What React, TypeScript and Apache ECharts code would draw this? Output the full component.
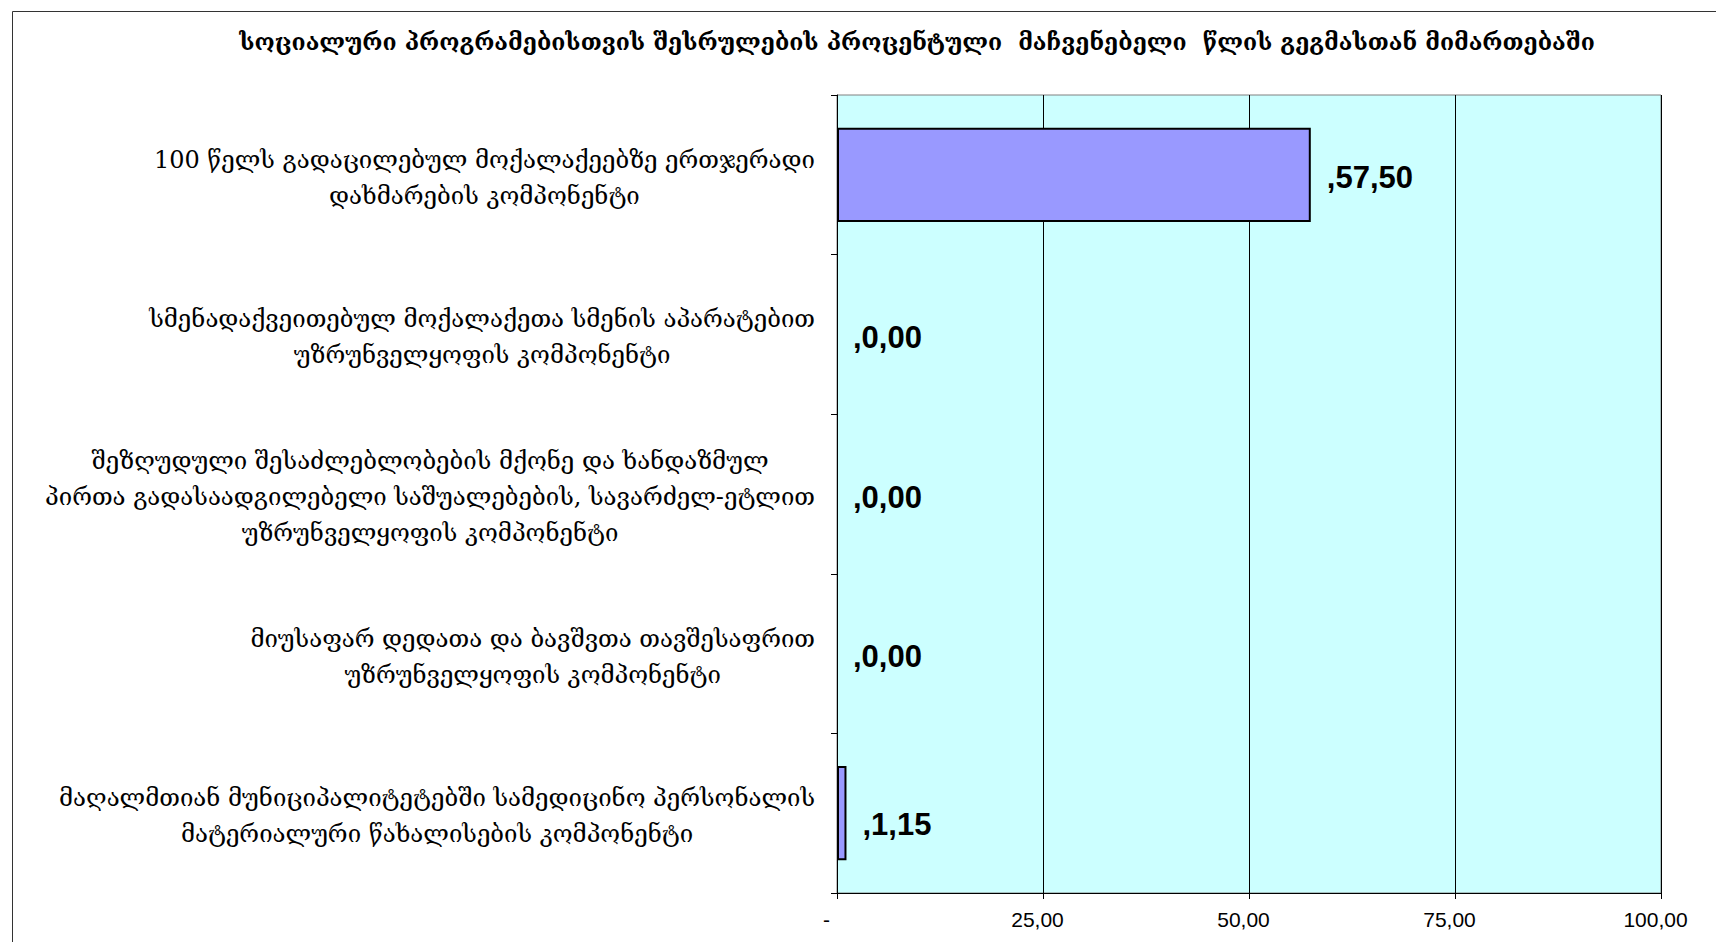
import React, { useEffect, useRef } from "react";
import * as echarts from "echarts";

const TITLE =
  "სოციალური პროგრამებისთვის შესრულების პროცენტული  მაჩვენებელი  წლის გეგმასთან მიმართებაში";

const categories: string[] = [
  "100 წელს გადაცილებულ მოქალაქეებზე ერთჯერადი\nდახმარების კომპონენტი",
  "სმენადაქვეითებულ მოქალაქეთა სმენის აპარატებით\nუზრუნველყოფის კომპონენტი",
  "შეზღუდული შესაძლებლობების მქონე და ხანდაზმულ\nპირთა გადასაადგილებელი საშუალებების, სავარძელ-ეტლით\nუზრუნველყოფის კომპონენტი",
  "მიუსაფარ დედათა და ბავშვთა თავშესაფრით\nუზრუნველყოფის კომპონენტი",
  "მაღალმთიან მუნიციპალიტეტებში სამედიცინო პერსონალის\nმატერიალური წახალისების კომპონენტი",
];

const values: number[] = [57.5, 0, 0, 0, 1.15];

const xTicks: number[] = [0, 25, 50, 75, 100];

const GEO_FONT = "'DejaVu Serif', 'DejaVu Sans', serif";
const NUM_FONT = "'Liberation Sans', Arial, sans-serif";

const fmt = (v: number) => v.toFixed(2).replace(".", ",");

export default function App() {
  const ref = useRef<HTMLDivElement>(null);

  useEffect(() => {
    if (!ref.current) return;
    const chart = echarts.init(ref.current, null, { renderer: "svg" });

    const lastIdx = values.length - 1;

    const option: any = {
      animation: false,
      backgroundColor: "#ffffff",
      title: {
        text: TITLE,
        left: 912,
        top: 25,
        textAlign: "center",
        textStyle: {
          fontFamily: GEO_FONT,
          fontWeight: "bold",
          fontSize: 23,
          color: "#000",
        },
      },
      graphic: [
        {
          type: "polyline",
          shape: {
            points: [
              [12.5, 942],
              [12.5, 11.5],
              [1716, 11.5],
            ],
          },
          style: { stroke: "#333", lineWidth: 1, fill: null },
          silent: true,
        },
      ],
      grid: {
        left: 837,
        top: 95,
        width: 824,
        height: 798,
        show: true,
        backgroundColor: "#CCFFFF",
        borderColor: "#808080",
        borderWidth: 1,
      },
      xAxis: {
        type: "value",
        min: xTicks[0],
        max: xTicks[xTicks.length - 1],
        interval: 25,
        axisLine: { show: true, lineStyle: { color: "#000", width: 1 } },
        axisTick: { show: true, length: 6, lineStyle: { color: "#000" } },
        splitLine: { show: true, lineStyle: { color: "#000", width: 1 } },
        axisLabel: {
          margin: 16,
          fontFamily: NUM_FONT,
          fontSize: 21,
          color: "#000",
          align: "center",
          padding: [0, 11, 0, 0],
          formatter: (v: number) => (v === 0 ? "{z|-}" : fmt(v)),
          rich: {
            z: {
              fontFamily: NUM_FONT,
              fontSize: 21,
              color: "#000",
              padding: [0, 10, 0, 0],
            },
          },
        },
      },
      yAxis: {
        type: "category",
        inverse: true,
        data: categories,
        axisLine: { show: true, lineStyle: { color: "#000", width: 1 } },
        axisTick: { show: true, length: 6, lineStyle: { color: "#000" } },
        splitLine: { show: false },
        axisLabel: {
          margin: 22,
          align: "right",
          padding: [6, 0, 0, 0],
          formatter: (s: string) =>
            s
              .split("\n")
              .map((l) => `{c|${l}}`)
              .join("\n"),
          rich: {
            c: {
              align: "center",
              fontFamily: GEO_FONT,
              fontSize: 24,
              lineHeight: 36,
              color: "#000",
            },
          },
        },
      },
      series: [
        {
          type: "bar",
          barCategoryGap: "41%",
          data: values.map((v, i) => {
            const item: any = { value: v };
            if (v === 0) item.itemStyle = { borderWidth: 0 };
            if (i === lastIdx) item.label = { offset: [0, 11] };
            return item;
          }),
          itemStyle: {
            color: "#9999FF",
            borderColor: "#000",
            borderWidth: 2,
          },
          label: {
            show: true,
            position: "right",
            distance: 16,
            offset: [0, 3],
            formatter: (p: any) => "," + fmt(p.value),
            fontFamily: NUM_FONT,
            fontWeight: "bold",
            fontSize: 31,
            color: "#000",
          },
        },
      ],
    };

    chart.setOption(option);
    return () => chart.dispose();
  }, []);

  return (
    <div
      ref={ref}
      style={{
        position: "fixed",
        left: 0,
        top: 0,
        width: 1716,
        height: 942,
      }}
    />
  );
}
